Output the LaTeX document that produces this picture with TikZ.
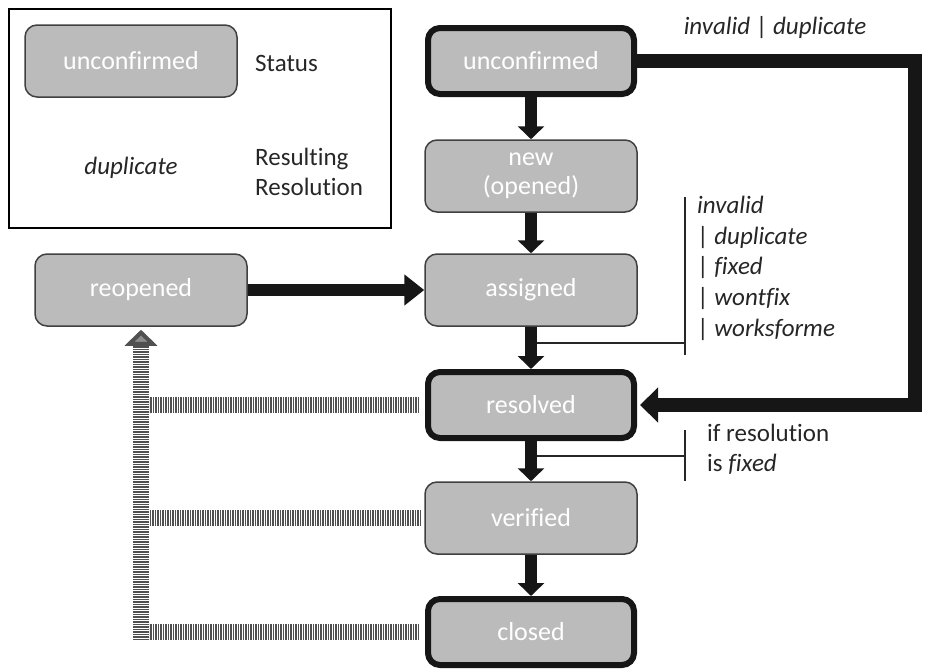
\documentclass[tikz,border=0pt]{standalone}
\usepackage{fontspec}
\setmainfont{Carlito}[Ligatures=NoCommon]
\usetikzlibrary{arrows.meta}
\definecolor{stategray}{HTML}{BBBBBB}
\definecolor{hatchgray}{HTML}{505050}
\definecolor{arrowblack}{HTML}{161616}

\tikzset{
  state/.style={draw=black!75, line width=1.5pt, rounded corners=12pt, fill=stategray,
    text=white, font=\fontsize{26}{29}\selectfont, align=center,
    minimum width=212pt, minimum height=72pt, inner sep=0pt},
  endstate/.style={state, draw=arrowblack, line width=6pt, minimum width=206pt, minimum height=66pt},
  plain/.style={font=\fontsize{25}{30}\selectfont, inner sep=0pt, text=black!85},
  res/.style={plain, font=\fontsize{25}{30.7}\selectfont\itshape},
  flow/.style={draw=arrowblack, line width=12pt, -{Triangle[width=26pt,length=13pt]}},
  bigflow/.style={draw=arrowblack, line width=14pt, line join=miter, -{Triangle[width=34pt,length=18pt]}},
  bracket/.style={draw=black!85, line width=1.3pt},
  hatch/.style={draw=hatchgray, line width=16pt, dash pattern=on 1.3pt off 1.2pt},
}

\begin{document}
\begin{tikzpicture}[x=1pt, y=-1pt]
\useasboundingbox (0,0) rectangle (927,670);

% legend
\node[draw, line width=2pt, minimum width=382pt, minimum height=219pt, anchor=north west, inner sep=0pt] (legend) at (8,8) {};
\node[state] (legendstate) at (131,61) {unconfirmed};
\node[plain, anchor=west] (legendstatus) at (255,63) {Status};
\node[res] (legendres) at (131,168) {duplicate};
\node[plain, anchor=west, align=left] (legendresol) at (255,172) {Resulting\\Resolution};

% states
\node[endstate] (unconfirmed) at (531,61) {unconfirmed};
\node[state] (new) at (531,176) {new\\(opened)};
\node[state] (assigned) at (531,290) {assigned};
\node[endstate] (resolved) at (531,405) {resolved};
\node[state] (verified) at (531,518) {verified};
\node[endstate] (closed) at (531,632) {closed};
\node[state] (reopened) at (141,290) {reopened};

% reopen paths
\coordinate (hatchcorner) at (141,640);
\coordinate (hatchedge) at (149,640);
\draw[hatch, shorten >=3pt, -{Triangle[width=32pt,length=16pt,fill=black!45]}] (hatchcorner) -- (reopened.south);
\draw[hatch, shorten <=6pt] (resolved.west) -- (resolved.west -| hatchedge);
\draw[hatch, shorten <=3pt] (verified.west) -- (verified.west -| hatchedge);
\draw[hatch, shorten <=6pt] (closed.west) -- (closed.west -| hatchedge);

% resolution brackets
\coordinate (brk1) at (685,343);
\coordinate (brk2) at (685,456);
\draw[bracket] (assigned.south |- brk1) -- (brk1);
\draw[bracket] ([yshift=146pt]brk1) -- ([yshift=-12pt]brk1);
\draw[bracket] (resolved.south |- brk2) -- (brk2);
\draw[bracket] ([yshift=26pt]brk2) -- ([yshift=-25pt]brk2);
\node[res, anchor=north west, align=left] (reslist) at (697,196)
  {invalid\\{\upshape|} duplicate\\{\upshape|} fixed\\{\upshape|} wontfix\\{\upshape|} worksforme};
\node[plain, anchor=north west, align=left] (fixedonly) at (707,424) {if resolution\\is \textit{fixed}};

% transitions
\draw[flow] (unconfirmed.south) -- (new.north);
\draw[flow] (new.south) -- (assigned.north);
\draw[flow] (assigned.south) -- (resolved.north);
\draw[flow] (resolved.south) -- (verified.north);
\draw[flow] (verified.south) -- (closed.north);
\draw[flow, -{Triangle[width=30pt,length=20pt]}] (reopened.east) -- (assigned.west);

\coordinate (bend) at (915,61);
\draw[bigflow] (unconfirmed.east) -- (bend) |- ([xshift=3pt]resolved.east);
\node[res] (duplab) at (775,28) {invalid {\upshape|} duplicate};
\end{tikzpicture}
\end{document}
